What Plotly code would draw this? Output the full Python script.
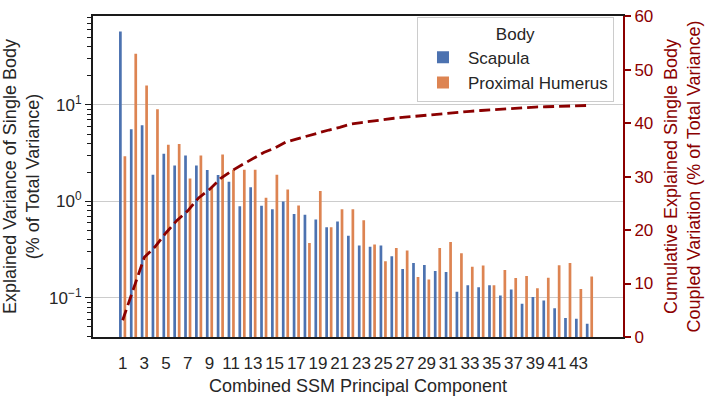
import plotly.graph_objects as go

components = list(range(1, 45))
scapula = [57.7, 5.59, 6.16, 1.89, 3.12, 2.36, 3.0, 2.36, 2.12, 1.88,
           1.60, 0.89, 1.40, 0.90, 0.83, 1.0, 0.74, 0.73, 0.65, 0.54,
           0.62, 0.44, 0.35, 0.34, 0.35, 0.27, 0.20, 0.23, 0.22, 0.19,
           0.186, 0.116, 0.135, 0.129, 0.135, 0.106, 0.122, 0.087, 0.102, 0.094,
           0.078, 0.062, 0.061, 0.054]
humerus = [2.94, 33.9, 15.9, 9.01, 3.88, 3.95, 1.73, 3.0, 1.41, 3.07,
           2.13, 2.13, 2.13, 1.09, 1.89, 1.33, 0.91, 0.37, 1.28, 0.54,
           0.83, 0.83, 0.64, 0.357, 0.24, 0.33, 0.31, 0.165, 0.155, 0.33,
           0.38, 0.29, 0.21, 0.217, 0.135, 0.195, 0.161, 0.169, 0.126, 0.162,
           0.218, 0.23, 0.124, 0.167]
cumulative = [3.13, 9.1, 14.9, 16.9, 19.5, 21.8, 23.6, 26.0, 27.6, 29.6,
              31.0, 32.2, 33.4, 34.5, 35.3, 36.4, 37.0, 37.6, 38.2, 38.7,
              39.2, 39.8, 40.1, 40.4, 40.6, 40.9, 41.1, 41.3, 41.5, 41.7,
              41.8, 42.0, 42.2, 42.35, 42.5, 42.65, 42.8, 42.9, 43.0, 43.05,
              43.1, 43.15, 43.2, 43.3]
x_ticks = list(range(1, 44, 2))
log_ticks = [0.1, 1, 10]
log_tick_text = ["10<sup>\u22121</sup>", "10<sup>0</sup>", "10<sup>1</sup>"]
right_ticks = [0, 10, 20, 30, 40, 50, 60]

FONT = "Arial, Liberation Sans, sans-serif"
TXT = "#262626"
RED = "#8B0000"
BLUE = "#4C72B0"
ORANGE = "#DD8452"

minor_vals = [m * 10 ** e for e in (-2, -1, 0, 1) for m in range(2, 10)]

fig = go.Figure()
fig.add_trace(go.Bar(x=components, y=scapula, name="Scapula",
                     marker=dict(color=BLUE, line=dict(width=0))))
fig.add_trace(go.Bar(x=components, y=humerus, name="Proximal Humerus",
                     marker=dict(color=ORANGE, line=dict(width=0))))
fig.add_trace(go.Scatter(x=components, y=cumulative, yaxis="y2", mode="lines",
                         line=dict(color=RED, width=2.8, dash="11px,5px"),
                         showlegend=False))

fig.update_layout(
    width=708, height=400,
    margin=dict(l=92, r=79, t=7, b=56),
    paper_bgcolor="white", plot_bgcolor="white",
    font=dict(family=FONT, color=TXT, size=17),
    barmode="group", bargap=0.17, bargroupgap=0.4,
    xaxis=dict(
        range=[-1.73, 47.09], tickmode="array", tickvals=x_ticks,
        ticks="outside", ticklen=10, tickcolor="rgba(0,0,0,0)",
        showgrid=False, zeroline=False,
        showline=True, linecolor="#1a1a1a", linewidth=2, mirror=True,
        tickfont=dict(size=17, color=TXT),
        title=dict(text="Combined SSM Principal Component",
                   font=dict(size=18, color=TXT), standoff=7),
    ),
    yaxis=dict(
        type="log", range=[-1.405, 1.922],
        tickmode="array", tickvals=log_ticks, ticktext=log_tick_text,
        ticks="outside", ticklen=6, tickwidth=1.2, tickcolor="#1a1a1a",
        minor=dict(tickmode="array", tickvals=minor_vals, ticks="outside",
                   ticklen=4, tickwidth=1, tickcolor="#1a1a1a", showgrid=False),
        showgrid=True, gridcolor="#cccccc", gridwidth=1, zeroline=False,
        showline=True, linecolor="#1a1a1a", linewidth=2,
        tickfont=dict(size=17, color=TXT),
        title=dict(text="Explained Variance of Single Body<br>(% of Total Variance)",
                   font=dict(size=18, color=TXT), standoff=6),
    ),
    yaxis2=dict(
        overlaying="y", side="right", range=[0, 60.02],
        tickmode="array", tickvals=right_ticks,
        ticks="outside", ticklen=6, tickwidth=1.5, tickcolor=RED,
        showgrid=False, zeroline=False,
        showline=True, linecolor=RED, linewidth=2,
        tickfont=dict(size=17, color=RED),
        title=dict(text="Cumulative Explained Single Body<br>Coupled Variation (% of Total Variance)",
                   font=dict(size=18, color=RED), standoff=12),
    ),
    legend=dict(
        x=0.983, xanchor="right", y=0.998, yanchor="top",
        bgcolor="white", bordercolor="#cccccc", borderwidth=1,
        font=dict(size=17, color=TXT),
        title=dict(text="Body", side="top center", font=dict(size=17, color=TXT)),
        itemwidth=40, tracegroupgap=0,
    ),
)

fig.write_html("out.html")
